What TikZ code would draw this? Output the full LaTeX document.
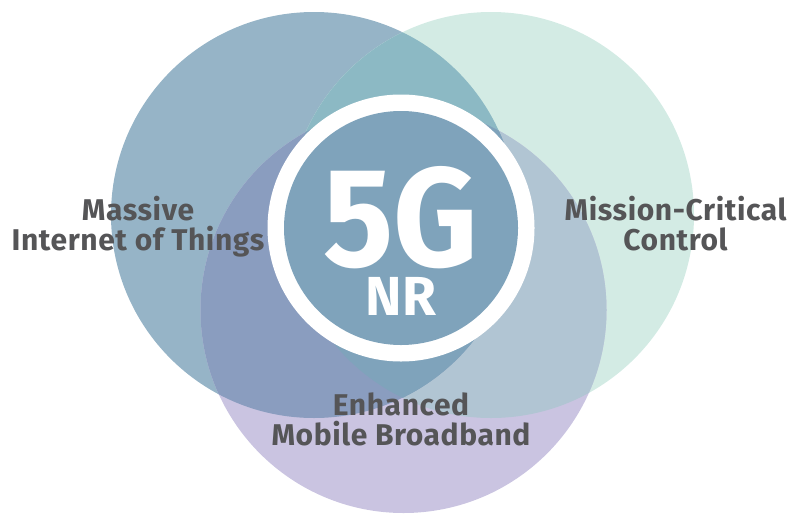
\documentclass[tikz,border=0pt]{standalone}
\usepackage{fontspec}
\setmainfont{Fira Sans}[LetterSpace=2]
\newfontfamily\fivegfont{Fira Sans}[FakeStretch=0.93]

\definecolor{iot}{HTML}{96B4C7}
\definecolor{mcc}{HTML}{D3EBE4}
\definecolor{embb}{HTML}{CAC4E1}
\definecolor{iotmcc}{HTML}{8CB9C4}
\definecolor{iotembb}{HTML}{8A9DBF}
\definecolor{mccembb}{HTML}{B1C5D3}
\definecolor{nr}{HTML}{7FA3BB}
\definecolor{caption}{HTML}{555557}

\begin{document}
\begin{tikzpicture}[x=1pt, y=-1pt]
 \tikzstyle{area}=[font=\fontsize{30}{30}\selectfont\bfseries, text=caption, align=center, inner sep=0pt, anchor=base]
 \tikzstyle{core}=[text=white, inner sep=0pt, text depth=0pt, anchor=base]

\useasboundingbox (0,0) rectangle (791,514);

\coordinate (L) at (314,215);
\coordinate (R) at (491,215);
\coordinate (B) at (403.5,310);
\coordinate (N) at (401,228);

\fill[iot]  (L) circle (203pt);
\fill[mcc]  (R) circle (203pt);
\fill[embb] (B) circle (203pt);
\begin{scope}
 \clip (R) circle (203pt);
 \fill[mccembb] (B) circle (203pt);
\end{scope}
\begin{scope}
 \clip (L) circle (203pt);
 \fill[iotmcc]  (R) circle (203pt);
 \fill[iotembb] (B) circle (203pt);
 \clip (R) circle (203pt);
 \fill[nr]      (B) circle (203pt);
\end{scope}

\fill[white] (N) circle (133.5pt);
\fill[nr]    (N) circle (117pt);

\node[core, font=\fontsize{141}{141}\fivegfont\bfseries] (G)  at (401,266.7) {5G};
\node[core, font=\fontsize{55}{55}\selectfont\bfseries]  (NR) at (401,315)   {NR};

\node[area] (M) at (138,250)   {Massive\\Internet of Things};
\node[area] (C) at (675.5,250.7) {Mission-Critical\\Control};
\node[area] (E) at (401,445.7) {Enhanced\\Mobile Broadband};
\end{tikzpicture}
\end{document}
